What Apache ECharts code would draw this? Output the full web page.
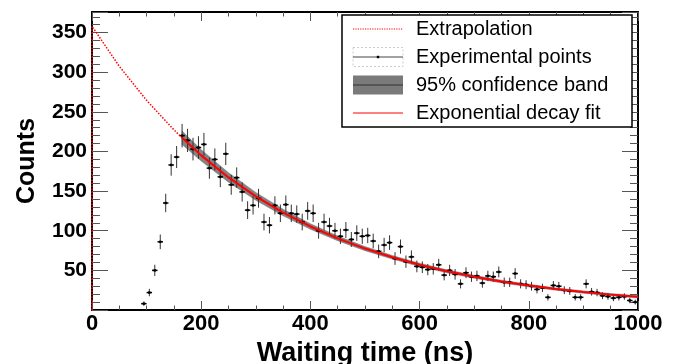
<!DOCTYPE html>
<html>
<head>
<meta charset="utf-8">
<script src="https://cdn.jsdelivr.net/npm/echarts@6/dist/echarts.min.js"></script>
<style>
html,body{margin:0;padding:0;background:#fff;}
#c{width:678px;height:364px;}
</style>
</head>
<body>
<div id="c"></div>
<script>
// ---- Data ----
const binCenters = [95,105,115,125,135,145,155,165,175,185,195,205,215,225,235,245,255,265,275,285,295,305,315,325,335,345,355,365,375,385,395,405,415,425,435,445,455,465,475,485,495,505,515,525,535,545,555,565,575,585,595,605,615,625,635,645,655,665,675,685,695,705,715,725,735,745,755,765,775,785,795,805,815,825,835,845,855,865,875,885,895,905,915,925,935,945,955,965,975,985,995];
const counts = [8,22,50,86,135,183,193,220,214,203,205,209,179,190,168,197,158,167,149,126,132,141,111,107,132,122,133,122,121,111,125,122,100,111,106,100,93,101,89,97,93,94,87,74,82,85,65,80,61,67,55,54,51,52,57,44,50,45,33,47,42,43,34,43,42,48,35,35,46,33,32,30,26,28,16,31,30,25,24,16,16,33,23,22,18,17,15,16,17,12,10];
const binHalfWidth = 5;

const fitX = [165,200,250,300,350,400,450,500,550,600,650,700,750,800,850,900,950,1000];
const fitY = [217.3,195.1,167.3,143.4,123.0,105.4,90.4,77.5,66.5,57.0,48.8,41.9,35.9,30.8,26.4,22.6,19.4,16.6];
const bandHalf = [8.5,7.2,6.0,5.0,4.2,3.5,3.0,2.6,2.3,2.1,1.9,1.8,1.7,1.6,1.5,1.5,1.5,1.5];

const extrapX = [0,0,50,100,150,165];
const extrapY = [0,358,307.5,264.5,227.3,217.3];

const xTicks = {min:0, max:1000, interval:200};
const yTicks = {min:0, max:376, interval:50};

const legendLabels = ['Extrapolation','Experimental points','95% confidence band','Exponential decay fit'];

// ---- Chart ----
const FONT = '"Liberation Sans", Arial, Helvetica, sans-serif';
const chart = echarts.init(document.getElementById('c'), null, {renderer:'canvas'});

const pointsData = binCenters.map((x,i)=>[x, counts[i]]);
const fitData = fitX.map((x,i)=>[x, fitY[i]]);
const extrapData = extrapX.map((x,i)=>[x, extrapY[i]]);

function xAxisCfg(pos, showLabel){
  return {
    type:'value', position:pos, min:xTicks.min, max:xTicks.max, interval:xTicks.interval,
    axisLine:{show:true, onZero:false, lineStyle:{color:'#000', width:2}},
    axisTick:{show:true, inside:true, length:9, lineStyle:{color:'#555', width:1}},
    minorTick:{show:true, splitNumber:4, length:4.5, lineStyle:{color:'#555', width:1}},
    splitLine:{show:false}, minorSplitLine:{show:false},
    axisLabel:{show:showLabel, color:'#000', fontFamily:FONT, fontWeight:'bold', fontSize:22, margin:3,
      formatter:function(v){ return String(v); }},
    name: showLabel ? 'Waiting time (ns)' : '',
    nameLocation:'middle', nameGap:24,
    nameTextStyle:{color:'#000', fontFamily:FONT, fontWeight:'bold', fontSize:27}
  };
}
function yAxisCfg(pos, showLabel){
  return {
    type:'value', position:pos, min:yTicks.min, max:yTicks.max, interval:yTicks.interval,
    axisLine:{show:true, onZero:false, lineStyle:{color:'#000', width:2}},
    axisTick:{show:true, inside:true, length:16, lineStyle:{color:'#555', width:1}},
    minorTick:{show:true, splitNumber:5, length:8, lineStyle:{color:'#555', width:1}},
    splitLine:{show:false}, minorSplitLine:{show:false},
    axisLabel:{show:showLabel, color:'#000', fontFamily:FONT, fontWeight:'bold', fontSize:21, margin:5,
      formatter:function(v){ return (v>0 && v%50===0) ? String(v) : ''; }},
    name: showLabel ? 'Counts' : '',
    nameLocation:'middle', nameGap:52, nameRotate:90,
    nameTextStyle:{color:'#000', fontFamily:FONT, fontWeight:'bold', fontSize:25}
  };
}

// legend graphics
const LX = 342, LY = 15, LW = 290, LH = 112, rowH = 28;
const symL = 353, symR = 403, textX = 416;
const legendGraphics = [
  {type:'rect', shape:{x:LX, y:LY, width:LW, height:LH}, style:{fill:'#fff', stroke:'#000', lineWidth:1.5}, z:100}
];
const rowY = i => LY + rowH*i + rowH/2;
legendGraphics.push({type:'line', shape:{x1:symL, y1:rowY(0), x2:symR, y2:rowY(0)}, style:{stroke:'#ff0000', lineWidth:1.2, lineDash:[1.2,1.2]}, z:101});
legendGraphics.push({type:'rect', shape:{x:symL, y:rowY(1)-9.5, width:symR-symL, height:19}, style:{fill:'none', stroke:'#ccc', lineWidth:1, lineDash:[2,2]}, z:101});
legendGraphics.push({type:'line', shape:{x1:symL, y1:rowY(1), x2:symR, y2:rowY(1)}, style:{stroke:'#444', lineWidth:1}, z:101});
legendGraphics.push({type:'rect', shape:{x:(symL+symR)/2-1.2, y:rowY(1)-1.2, width:2.4, height:2.4}, style:{fill:'#000'}, z:102});
legendGraphics.push({type:'rect', shape:{x:symL, y:rowY(2)-9.5, width:symR-symL, height:19}, style:{fill:'#7a7a7a', stroke:'none'}, z:101});
legendGraphics.push({type:'line', shape:{x1:symL, y1:rowY(2), x2:symR, y2:rowY(2)}, style:{stroke:'#333', lineWidth:1}, z:102});
legendGraphics.push({type:'line', shape:{x1:symL, y1:rowY(3), x2:symR, y2:rowY(3)}, style:{stroke:'#ff0000', lineWidth:1}, z:101});
legendLabels.forEach((t,i)=>{
  legendGraphics.push({type:'text', x:textX, y:rowY(i), style:{text:t, fill:'#000', font:'20px '+FONT, textVerticalAlign:'middle', textAlign:'left'}, z:102});
});

const option = {
  animation:false,
  backgroundColor:'#fff',
  grid:{left:92, right:40, top:12, bottom:54, containLabel:false, outerBoundsMode:'none'},
  xAxis:[xAxisCfg('bottom', true), xAxisCfg('top', false)],
  yAxis:[yAxisCfg('left', true), yAxisCfg('right', false)],
  graphic:legendGraphics,
  series:[
    {
      name:'95% confidence band', type:'custom', xAxisIndex:0, yAxisIndex:0, z:1,
      data:[[500,100]], silent:true,
      renderItem:function(params, api){
        const up = fitX.map((x,i)=>api.coord([x, fitY[i]+bandHalf[i]]));
        const lo = fitX.map((x,i)=>api.coord([x, fitY[i]-bandHalf[i]])).reverse();
        return {type:'polygon', shape:{points:up.concat(lo)}, style:{fill:'rgba(100,100,100,0.8)', stroke:'rgba(100,100,100,0.8)', lineWidth:0.5}};
      }
    },
    {
      name:'Experimental points', type:'custom', xAxisIndex:0, yAxisIndex:0, z:2,
      data:pointsData, encode:{x:0, y:1}, silent:true,
      renderItem:function(params, api){
        const x = api.value(0), y = api.value(1), e = Math.sqrt(y);
        const p = api.coord([x,y]);
        const t = api.coord([x, y+e]);
        const b = api.coord([x, Math.max(0, y-e)]);
        const l = api.coord([x-binHalfWidth, y]);
        const r = api.coord([x+binHalfWidth, y]);
        return {type:'group', children:[
          {type:'line', shape:{x1:p[0], y1:t[1], x2:p[0], y2:b[1]}, style:{stroke:'#333', lineWidth:1}},
          {type:'line', shape:{x1:l[0], y1:p[1], x2:r[0], y2:p[1]}, style:{stroke:'#000', lineWidth:1.5}},
          {type:'rect', shape:{x:p[0]-1.2, y:p[1]-1.2, width:2.4, height:2.4}, style:{fill:'#000'}}
        ]};
      }
    },
    {
      name:'Exponential decay fit', type:'line', xAxisIndex:0, yAxisIndex:0, z:3,
      data:fitData, symbol:'none', smooth:false,
      lineStyle:{color:'#ff0000', width:2}
    },
    {
      name:'Extrapolation', type:'line', xAxisIndex:0, yAxisIndex:0, z:3,
      data:extrapData, symbol:'none', smooth:false,
      lineStyle:{color:'#ff0000', width:1.5, type:[1.5,1.5]}
    }
  ]
};
chart.setOption(option);
</script>
</body>
</html>
